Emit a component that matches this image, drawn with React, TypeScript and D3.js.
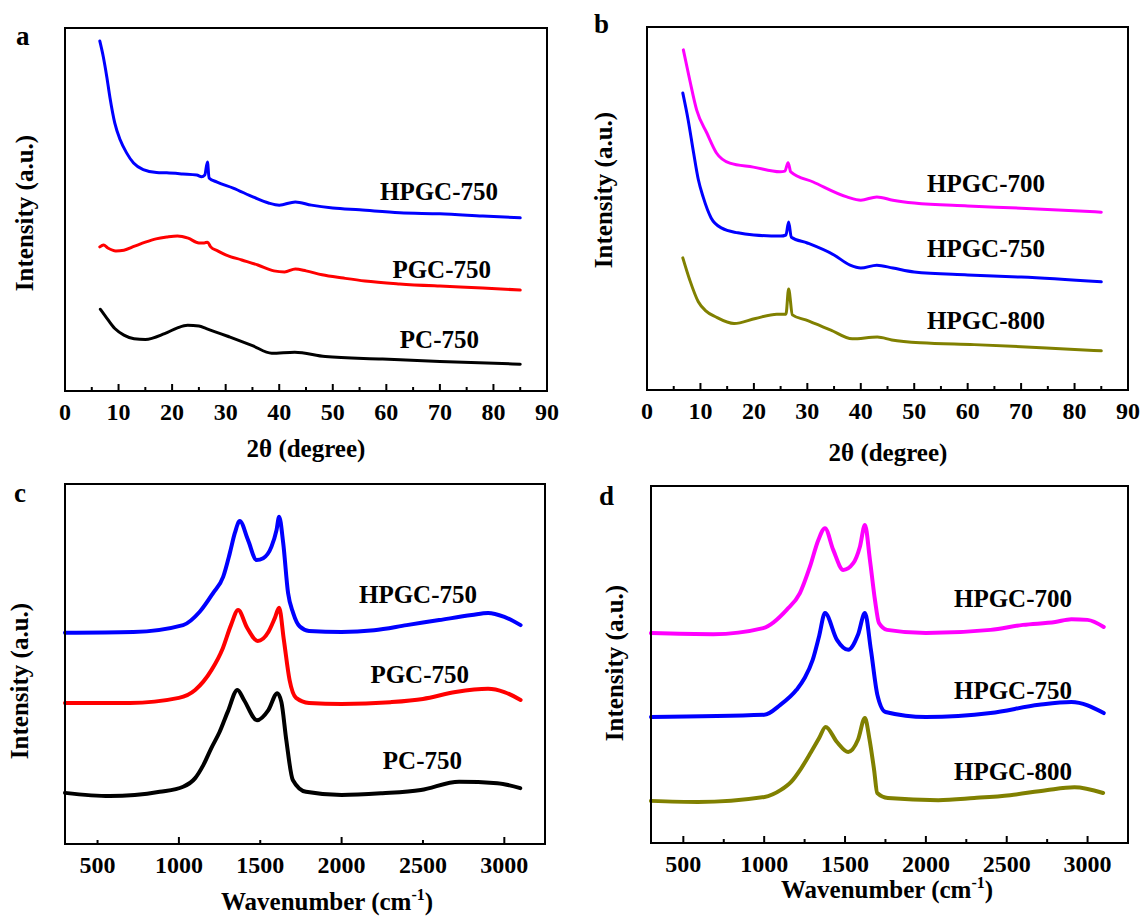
import * as d3 from "d3"
import React from "react"

const FONT = "Liberation Serif, Times New Roman, Times, DejaVu Serif, serif"

// XRD curves, [2theta, intensity (a.u.)]
const xrdA_HPGC750: [number, number][] = [
    [6.5, 96.4], [7.15, 92.1], [7.8, 86.6], [8.4, 80.8], [9.3, 73.8], [10.3, 69.2],
    [11.5, 65.6], [12.8, 62.8], [14.6, 61.0], [17.1, 60.2], [19, 60.1], [22, 59.8],
    [24.6, 59.5], [25.5, 59.0], [26.1, 59.5], [26.6, 63.1], [26.9, 58.7], [28.3, 57.6],
    [31.4, 55.9], [35.2, 53.4], [38, 51.8], [40, 51.2], [43, 52.1], [46, 51.2],
    [50, 50.4], [55, 49.9], [62.5, 49.1], [70, 48.8], [78, 48.2], [85, 47.7],
]
const xrdA_PGC750: [number, number][] = [
    [6.5, 39.7], [7.2, 40.2], [8, 39.4], [9.5, 38.6], [11, 38.8], [13, 39.9], [15, 41.0],
    [17, 41.9], [19, 42.4], [21, 42.7], [23, 42.1], [25, 40.8], [26, 40.8], [26.6, 41.0],
    [27.2, 39.7], [28.5, 38.6], [30, 37.5], [33, 36.1], [36, 34.7], [39, 33.1], [41, 32.8],
    [43, 33.6], [45, 33.1], [48, 32.0], [52, 31.1], [56, 30.3], [62.5, 29.5], [70, 28.9],
    [78, 28.4], [85, 27.8],
]
const xrdA_PC750: [number, number][] = [
    [6.6, 22.5], [7.5, 20.7], [9.3, 17.2], [11, 15.4], [12.9, 14.4], [15, 14.2], [18.6, 15.8],
    [21, 17.4], [22.9, 18.1], [25, 17.9], [26.4, 17.2], [30.7, 14.9], [35, 12.5], [38.6, 10.4],
    [42.9, 10.7], [48.6, 9.5], [59.3, 8.8], [70, 8.1], [85, 7.4],
]

const xrdB_HPGC700: [number, number][] = [
    [6.8, 93.7], [8.0, 85.4], [9.3, 77.1], [11.2, 70.8], [13.0, 65.3], [15.5, 62.5],
    [19.9, 61.4], [24.9, 60.1], [25.8, 60.3], [26.4, 62.6], [26.9, 60.1], [31.1, 57.3],
    [37.4, 53.2], [40, 52.3], [43, 53.2], [46, 52.3], [50, 51.5], [60, 50.7], [70, 50.1],
    [85, 49.0],
]
const xrdB_HPGC750: [number, number][] = [
    [6.7, 81.8], [7.7, 74.4], [8.7, 65.5], [9.6, 58.0], [10.5, 53.2], [12, 47.4], [14, 44.6], [17, 43.3],
    [20, 42.7], [25, 42.4], [26, 42.7], [26.5, 46.3], [27, 42.1], [30, 40.5], [35, 37.2],
    [38, 34.4], [40, 33.6], [43, 34.4], [46, 33.6], [50, 32.5], [60, 31.7], [70, 31.1],
    [85, 29.8],
]
const xrdB_HPGC800: [number, number][] = [
    [6.7, 36.4], [8, 30.3], [9.6, 24.3], [11, 21.8], [12.9, 20.1], [16.3, 18.3], [20.3, 19.7],
    [24.3, 20.9], [26.0, 20.9], [26.5, 27.8], [27.2, 20.7], [29.7, 19.3], [34.4, 16.5],
    [38.4, 14.1], [43.1, 14.6], [45.8, 13.8], [51.2, 13.0], [61.2, 12.5], [74.7, 11.6],
    [85, 10.8],
]

// Raman curves, [wavenumber, intensity (a.u.)]
const ramanC_HPGC750: [number, number][] = [
    [300, 58.7], [720, 58.9], [1026, 60.8], [1128, 64.5], [1210, 69.7], [1272, 74.2],
    [1313, 80.8], [1344, 86.4], [1374, 89.7], [1425, 84.4], [1477, 78.9], [1518, 79.4],
    [1569, 82.6], [1600, 87.2], [1616, 90.9], [1641, 83.6], [1671, 69.7], [1702, 64.2],
    [1743, 60.4], [1800, 59.2], [2000, 58.9], [2200, 59.4], [2400, 60.8], [2600, 62.2],
    [2800, 63.6], [2900, 64.2], [3000, 63.1], [3100, 60.8],
]
const ramanC_PGC750: [number, number][] = [
    [300, 39.2], [700, 39.2], [1000, 40.6], [1100, 42.8], [1200, 48.3], [1270, 54.4],
    [1320, 60.8], [1364, 65.0], [1420, 60.0], [1485, 56.4], [1550, 58.9], [1590, 62.8],
    [1616, 65.6], [1645, 56.7], [1680, 45.6], [1720, 40.6], [1800, 39.2], [2000, 38.9],
    [2300, 39.4], [2500, 40.3], [2700, 42.2], [2900, 43.1], [3000, 42.2], [3100, 40.0],
]
const ramanC_PC750: [number, number][] = [
    [300, 14.2], [575, 13.3], [882, 14.5], [1026, 15.9], [1100, 18.3], [1150, 21.9],
    [1200, 26.7], [1250, 31.1], [1300, 36.7], [1360, 42.8], [1400, 40.0], [1480, 34.4],
    [1550, 37.2], [1605, 41.9], [1630, 39.4], [1660, 28.9], [1700, 17.8], [1781, 14.5],
    [2000, 13.6], [2251, 14.1], [2487, 15.0], [2722, 17.3], [2957, 16.9], [3098, 15.5],
]

const ramanD_HPGC700: [number, number][] = [
    [300, 58.8], [685, 58.5], [994, 60.2], [1139, 65.3], [1221, 70.0], [1283, 77.4],
    [1335, 84.9], [1376, 88.2], [1427, 82.1], [1489, 76.5], [1551, 78.4], [1592, 83.0],
    [1623, 89.1], [1654, 79.3], [1685, 68.1], [1710, 61.6], [1760, 59.7], [2000, 58.8],
    [2400, 59.7], [2600, 61.1], [2800, 61.9], [2900, 62.7], [3000, 62.5], [3100, 60.5],
]
const ramanD_HPGC750: [number, number][] = [
    [300, 35.3], [1000, 35.9], [1100, 38.7], [1200, 42.9], [1250, 46.2], [1300, 51.3],
    [1340, 58.0], [1376, 64.4], [1450, 56.9], [1520, 54.1], [1580, 58.3], [1623, 64.4],
    [1660, 54.1], [1700, 41.5], [1750, 36.7], [2000, 35.3], [2400, 36.4], [2700, 38.7],
    [2900, 39.5], [3100, 36.4],
]
const ramanD_HPGC800: [number, number][] = [
    [300, 11.8], [590, 11.5], [1002, 12.9], [1101, 14.8], [1168, 17.2], [1230, 21.0],
    [1290, 25.5], [1340, 29.4], [1380, 32.5], [1450, 28.3], [1520, 25.5], [1580, 28.9],
    [1623, 35.0], [1650, 29.4], [1680, 20.4], [1699, 14.0], [1765, 12.6], [2077, 12.0],
    [2299, 12.6], [2521, 13.4], [2744, 14.8], [2919, 15.6], [3096, 14.0],
]

const xrdTicks = [0, 10, 20, 30, 40, 50, 60, 70, 80, 90]
const xrdMinor = [5, 15, 25, 35, 45, 55, 65, 75, 85]
const ramanTicks = [500, 1000, 1500, 2000, 2500, 3000]
const ramanMajorC = [1000, 2000, 3000]
const ramanMinorC = [500, 1500, 2500]
const ramanMinorD = [750, 1250, 1750, 2250, 2750]

const BLUE = "#0000ff"
const RED = "#ff0000"
const BLACK = "#000000"
const MAGENTA = "#ff00ff"
const OLIVE = "#808000"

const Panel = ({ box, xDomain, tickLabels, major, minor, series, letter, xTitle, yTitle }) => {
    const x = d3.scaleLinear().domain(xDomain).range([box.left, box.right])
    const y = d3.scaleLinear().domain([0, 100]).range([box.bottom, box.top])
    const line = d3.line<[number, number]>()
        .x(d => x(d[0]))
        .y(d => y(d[1]))
        .curve(d3.curveMonotoneX)

    return (
        <g fontFamily={FONT} fontWeight="bold">
            {series.map((s, i) => (
                <path key={i} d={line(s.data)} fill="none" stroke={s.color}
                      strokeWidth={s.width} strokeLinejoin="round" strokeLinecap="round" />
            ))}
            <rect x={box.left} y={box.top} width={box.right - box.left} height={box.bottom - box.top}
                  fill="none" stroke="#000" strokeWidth={2} />
            {major.map(t => (
                <line key={"M" + t} x1={x(t)} x2={x(t)} y1={box.bottom} y2={box.bottom - 7}
                      stroke="#000" strokeWidth={2} />
            ))}
            {minor.map(t => (
                <line key={"m" + t} x1={x(t)} x2={x(t)} y1={box.bottom} y2={box.bottom - 4}
                      stroke="#000" strokeWidth={2} />
            ))}
            {tickLabels.map(t => (
                <text key={"t" + t} x={x(t)} y={box.bottom + 29} textAnchor="middle"
                      fontSize={24}>{t}</text>
            ))}
            {series.map((s, i) => (
                <text key={"l" + i} x={s.lx} y={s.ly} textAnchor="end" fontSize={25}>{s.label}</text>
            ))}
            <text x={letter.x} y={letter.y} fontSize={27}>{letter.text}</text>
            <text transform={`translate(${yTitle.x},${yTitle.y}) rotate(-90)`} textAnchor="middle"
                  fontSize={25}>Intensity (a.u.)</text>
            {xTitle.sup ? (
                <text x={xTitle.x} y={xTitle.y} textAnchor="middle" fontSize={25}>
                    {xTitle.text}
                    <tspan fontSize={16} dy={-10}>{xTitle.sup}</tspan>
                    <tspan dy={10}>)</tspan>
                </text>
            ) : (
                <text x={xTitle.x} y={xTitle.y} textAnchor="middle" fontSize={25}>{xTitle.text}</text>
            )}
        </g>
    )
}

const App = () => {
    return (
        <svg width={1142} height={917} style={{ position: "absolute", left: 0, top: 0 }}>
            <rect width={1142} height={917} fill="#fff" />
            <Panel
                box={{ left: 65, top: 28, right: 547, bottom: 391 }}
                xDomain={[0, 90]} tickLabels={xrdTicks} major={xrdTicks} minor={xrdMinor}
                series={[
                    { data: xrdA_HPGC750, color: BLUE, width: 3, label: "HPGC-750", lx: 498, ly: 200 },
                    { data: xrdA_PGC750, color: RED, width: 3, label: "PGC-750", lx: 491, ly: 278 },
                    { data: xrdA_PC750, color: BLACK, width: 3, label: "PC-750", lx: 479, ly: 348 },
                ]}
                letter={{ text: "a", x: 16, y: 45 }}
                xTitle={{ text: "2θ (degree)", x: 306, y: 457 }}
                yTitle={{ x: 33, y: 213 }}
            />
            <Panel
                box={{ left: 647, top: 27, right: 1128, bottom: 390 }}
                xDomain={[0, 90]} tickLabels={xrdTicks} major={xrdTicks} minor={xrdMinor}
                series={[
                    { data: xrdB_HPGC700, color: MAGENTA, width: 3, label: "HPGC-700", lx: 1045, ly: 192 },
                    { data: xrdB_HPGC750, color: BLUE, width: 3, label: "HPGC-750", lx: 1045, ly: 257 },
                    { data: xrdB_HPGC800, color: OLIVE, width: 3, label: "HPGC-800", lx: 1045, ly: 329 },
                ]}
                letter={{ text: "b", x: 594, y: 33 }}
                xTitle={{ text: "2θ (degree)", x: 888, y: 461 }}
                yTitle={{ x: 612, y: 190 }}
            />
            <Panel
                box={{ left: 65, top: 484, right: 545, bottom: 844 }}
                xDomain={[300, 3250]} tickLabels={ramanTicks} major={ramanMajorC} minor={ramanMinorC}
                series={[
                    { data: ramanC_HPGC750, color: BLUE, width: 4, label: "HPGC-750", lx: 477, ly: 603 },
                    { data: ramanC_PGC750, color: RED, width: 4, label: "PGC-750", lx: 469, ly: 683 },
                    { data: ramanC_PC750, color: BLACK, width: 4, label: "PC-750", lx: 462, ly: 769 },
                ]}
                letter={{ text: "c", x: 14, y: 502 }}
                xTitle={{ text: "Wavenumber (cm", sup: "-1", x: 327, y: 910 }}
                yTitle={{ x: 28, y: 681 }}
            />
            <Panel
                box={{ left: 651, top: 486, right: 1128, bottom: 843 }}
                xDomain={[300, 3250]} tickLabels={ramanTicks} major={ramanTicks} minor={ramanMinorD}
                series={[
                    { data: ramanD_HPGC700, color: MAGENTA, width: 4, label: "HPGC-700", lx: 1072, ly: 607 },
                    { data: ramanD_HPGC750, color: BLUE, width: 4, label: "HPGC-750", lx: 1072, ly: 699 },
                    { data: ramanD_HPGC800, color: OLIVE, width: 4, label: "HPGC-800", lx: 1072, ly: 780 },
                ]}
                letter={{ text: "d", x: 599, y: 505 }}
                xTitle={{ text: "Wavenumber (cm", sup: "-1", x: 887, y: 898 }}
                yTitle={{ x: 623, y: 663 }}
            />
        </svg>
    )
}

export default App
